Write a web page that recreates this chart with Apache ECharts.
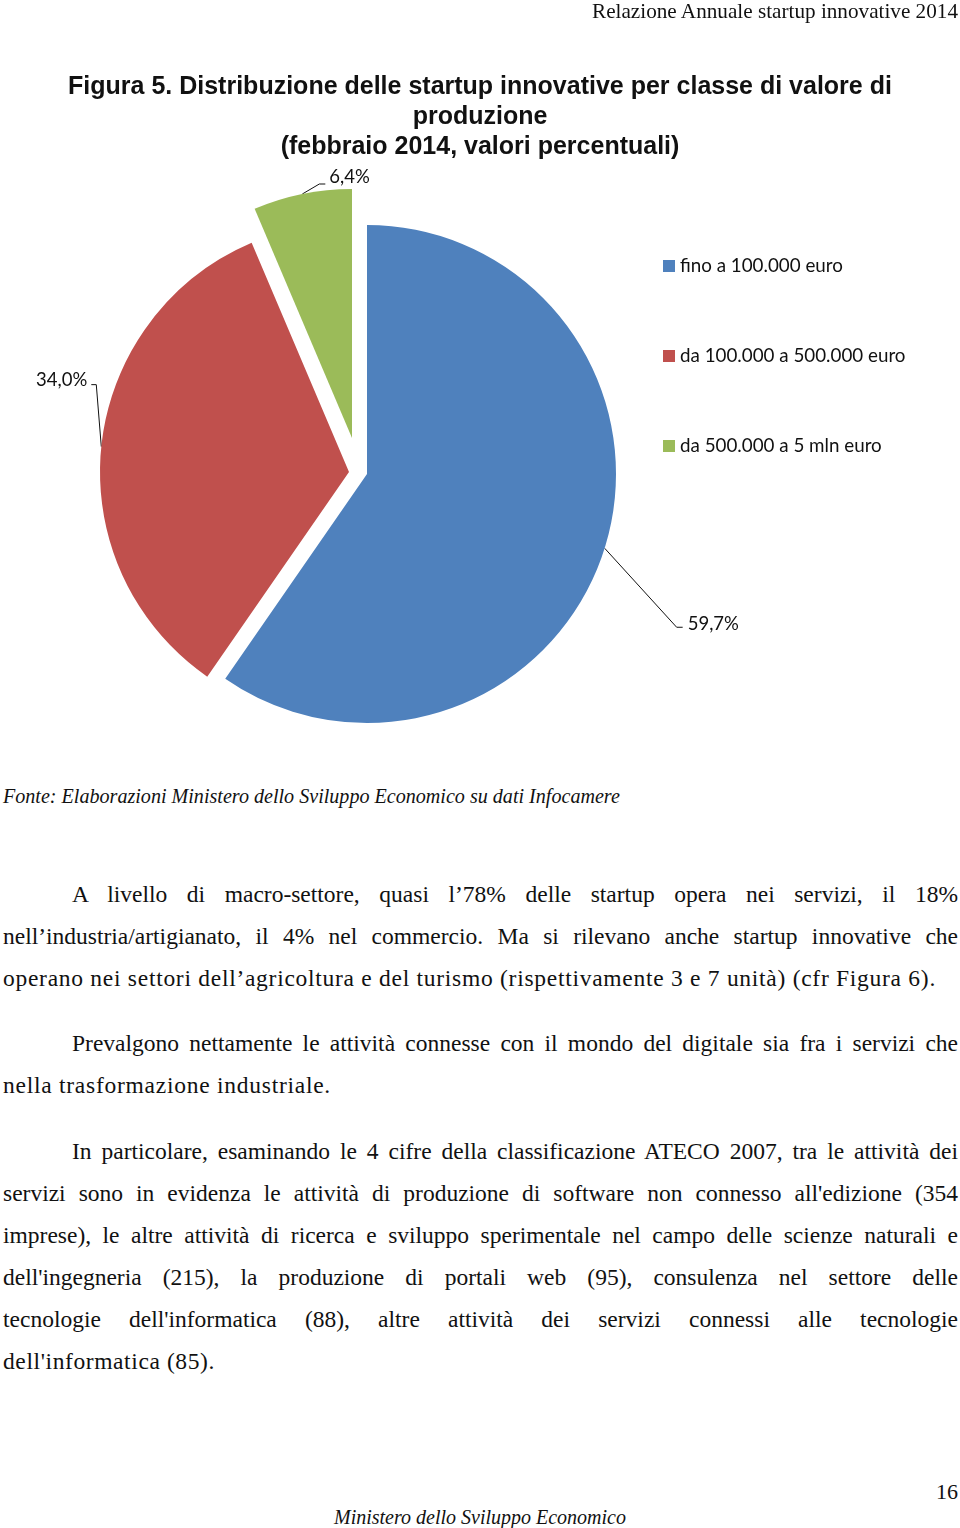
<!DOCTYPE html>
<html>
<head>
<meta charset="utf-8">
<script src="https://cdn.jsdelivr.net/npm/echarts@6/dist/echarts.min.js"></script>
<style>
html,body{margin:0;padding:0;background:#fff;}
body{width:960px;height:1528px;position:relative;overflow:hidden;color:#111;}
#chart{position:absolute;left:0;top:0;width:960px;height:780px;z-index:1;}
.t{position:absolute;white-space:nowrap;font-family:"Liberation Serif","DejaVu Serif",serif;z-index:2;}
.ln{position:absolute;font-family:"Liberation Serif","DejaVu Serif",serif;text-align:justify;text-align-last:justify;white-space:normal;overflow:visible;height:30px;line-height:30px;}
.ln.left{text-align:left;text-align-last:left;}
</style>
</head>
<body>
<div class="t" id="hdr" style="right:2px;top:-2px;font-size:21.2px;line-height:26px;">Relazione Annuale startup innovative 2014</div>
<div id="chart"></div>
<div class="t" style="left:3px;top:783px;font-size:20.1px;line-height:26px;font-style:italic;">Fonte: Elaborazioni Ministero dello Sviluppo Economico su dati Infocamere</div>
<div id="paras"></div>
<div class="t" style="right:2px;top:1478px;font-size:22px;line-height:28px;">16</div>
<div class="t" style="left:334px;top:1504px;font-size:20px;line-height:26px;font-style:italic;">Ministero dello Sviluppo Economico</div>
<script>
// ---- chart data ----
const categories = ['fino a 100.000 euro', 'da 100.000 a 500.000 euro', 'da 500.000 a 5 mln euro'];
const values = [59.7, 34.0, 6.4];
const colors = ['#4F81BD', '#C0504D', '#9BBB59'];
const titleLines = ['Figura 5. Distribuzione delle startup innovative per classe di valore di', 'produzione', '(febbraio 2014, valori percentuali)'];

// layout (exploded slice centres, label placement offsets)
const centers = [[367, 474], [349, 472], [352, 438]];
const labelPlace = [
  {text: [83, 76], elbow: [72, 79], end: [78, 79], align: 'left'},
  {text: [-14, -67], elbow: [-5, -62], end: [-10, -62], align: 'right'},
  {text: [27, -17], elbow: [17, -10], end: [23, -10], align: 'left'}
];

const fmt = v => v.toFixed(1).replace('.', ',') + '%';
const sansFont = 'Lato, "Open Sans", sans-serif';

const chart = echarts.init(document.getElementById('chart'), null, {renderer: 'canvas'});

const series = categories.map((_, k) => ({
  type: 'pie',
  radius: 249,
  center: centers[k],
  startAngle: 90,
  clockwise: true,
  animation: false,
  silent: true,
  avoidLabelOverlap: false,
  emphasis: {disabled: true},
  label: {
    show: true,
    position: 'outside',
    color: '#111',
    fontSize: 18.5,
    fontFamily: sansFont,
    formatter: p => fmt(p.value)
  },
  labelLine: {show: true, length: 10, length2: 10, lineStyle: {color: '#111', width: 1}},
  labelLayout: p => {
    if (p.dataIndex !== k || !p.labelLinePoints) return {};
    const s = p.labelLinePoints[0];
    const o = labelPlace[k];
    return {
      x: s[0] + o.text[0],
      y: s[1] + o.text[1],
      align: o.align,
      verticalAlign: 'middle',
      labelLinePoints: [[s[0], s[1]], [s[0] + o.elbow[0], s[1] + o.elbow[1]], [s[0] + o.end[0], s[1] + o.end[1]]]
    };
  },
  data: categories.map((name, i) => ({
    name: name,
    value: values[i],
    itemStyle: {color: i === k ? colors[i] : 'rgba(0,0,0,0)'},
    label: {show: i === k},
    labelLine: {show: i === k}
  }))
}));

chart.setOption({
  backgroundColor: 'rgba(0,0,0,0)',
  title: {
    text: titleLines.join('\n'),
    left: 475,
    top: 67,
    textAlign: 'center',
    textStyle: {
      fontFamily: '"Liberation Sans", Arial, sans-serif',
      fontWeight: 'bold',
      fontSize: 25,
      lineHeight: 30,
      color: '#111'
    }
  },
  legend: {
    orient: 'vertical',
    left: 663,
    top: 256,
    padding: 0,
    icon: 'rect',
    itemWidth: 12,
    itemHeight: 12,
    itemGap: 70,
    selectedMode: false,
    textStyle: {fontSize: 18.8, fontFamily: sansFont, color: '#111', height: 20, lineHeight: 20},
    data: categories.map((n, i) => ({name: n, itemStyle: {color: colors[i]}}))
  },
  series: series
});

// ---- body text (real text, laid out line by line like the page) ----
const lines = [
  ['A livello di macro-settore, quasi l’78% delle startup opera nei servizi, il 18%', 72, 958, 894, true],
  ['nell’industria/artigianato, il 4% nel commercio. Ma si rilevano anche startup innovative che', 3, 958, 936, true],
  ['operano nei settori dell’agricoltura e del turismo (rispettivamente 3 e 7 unità) (cfr Figura 6).', 3, 938, 978, false],
  ['Prevalgono nettamente le attività connesse con il mondo del digitale sia fra i servizi che', 72, 958, 1043, true],
  ['nella trasformazione industriale.', 3, 333, 1085, false],
  ['In particolare, esaminando le 4 cifre della classificazione ATECO 2007, tra le attività dei', 72, 958, 1151, true],
  ['servizi sono in evidenza le attività di produzione di software non connesso all\'edizione (354', 3, 958, 1193, true],
  ['imprese), le altre attività di ricerca e sviluppo sperimentale nel campo delle scienze naturali e', 3, 958, 1235, true],
  ['dell\'ingegneria (215), la produzione di portali web (95), consulenza nel settore delle', 3, 958, 1277, true],
  ['tecnologie dell\'informatica (88), altre attività dei servizi connessi alle tecnologie', 3, 958, 1319, true],
  ['dell\'informatica (85).', 3, 217, 1361, false]
];
const paras = document.getElementById('paras');
const meas = document.createElement('span');
meas.className = 't';
meas.style.visibility = 'hidden';
document.body.appendChild(meas);
function natural(text, size, ls) {
  meas.style.fontSize = size + 'px';
  meas.style.letterSpacing = (ls || 0) + 'px';
  meas.textContent = text;
  return meas.getBoundingClientRect().width;
}
// font size from the ragged (unjustified) lines
let sum = 0, n = 0;
lines.forEach(l => {
  if (!l[4]) { sum += 100 * (l[2] - l[1]) / natural(l[0], 100); n++; }
});
const fs = Math.min(sum / n, 23.5);
lines.forEach(l => {
  const target = l[2] - l[1];
  const w = natural(l[0], fs);
  let ls = 0;
  if (!l[4] || w > target - 2) ls = (target - 2 - w) / l[0].length;
  if (l[4] && ls > 0) ls = 0;
  const d = document.createElement('div');
  d.className = 'ln' + (l[4] ? '' : ' left');
  d.textContent = l[0];
  d.style.left = l[1] + 'px';
  d.style.width = (target + 4) + 'px';
  if (l[4]) d.style.width = target + 'px';
  d.style.top = (l[3] - 15) + 'px';
  d.style.fontSize = fs + 'px';
  d.style.letterSpacing = ls + 'px';
  paras.appendChild(d);
});
meas.remove();
</script>
</body>
</html>
